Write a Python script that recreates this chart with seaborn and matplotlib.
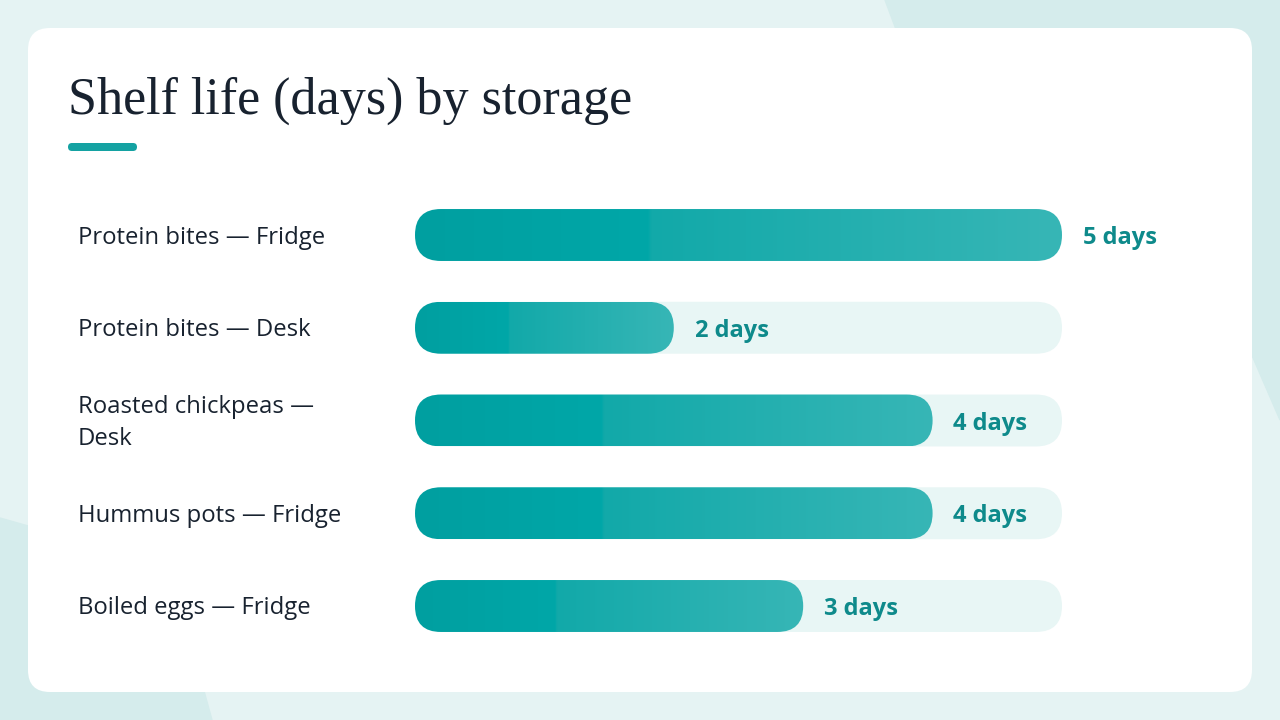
import numpy as np
import pandas as pd
import matplotlib.pyplot as plt
import seaborn as sns
from matplotlib.patches import FancyBboxPatch, Polygon, Rectangle
from matplotlib.colors import LinearSegmentedColormap
from matplotlib.transforms import blended_transform_factory, offset_copy

# ==== data ====
items = ["Protein bites — Fridge", "Protein bites — Desk", "Roasted chickpeas — Desk",
         "Hummus pots — Fridge", "Boiled eggs — Fridge"]
item_labels = ["Protein bites — Fridge", "Protein bites — Desk", "Roasted chickpeas —\nDesk",
               "Hummus pots — Fridge", "Boiled eggs — Fridge"]
days = [5, 2, 4, 4, 3]
max_days = 5
title = "Shelf life (days) by storage"

# ==== colours ====
BG_LIGHT = "#e5f3f3"
BG_DARK = "#d5ecec"
TRACK = "#e8f6f5"
LABEL_TEAL = "#0e8a8b"
INK = "#18222f"

sns.set_theme(style="white")
plt.rcParams['font.family'] = ['Open Sans', 'DejaVu Sans']

W, H = 1280, 720
fig = plt.figure(figsize=(12.8, 7.2), dpi=100)

# background + card (pixel coords)
bg = fig.add_axes([0, 0, 1, 1])
bg.set_xlim(0, W)
bg.set_ylim(H, 0)
bg.axis('off')
bg.add_patch(Rectangle((0, 0), W, H, color=BG_LIGHT, zorder=0))
bg.add_patch(Polygon([(885, 0), (W, 0), (W, 420), (1150, 120), (900, 40)],
                     closed=True, color=BG_DARK, zorder=0))
bg.add_patch(Polygon([(0, 518), (60, 535), (140, 580), (190, 640), (212, 720), (0, 720)],
                     closed=True, color=BG_DARK, zorder=0))
bg.add_patch(FancyBboxPatch((28, 28), 1224, 664, boxstyle="round,pad=0,rounding_size=22",
                            fc="white", ec="none", zorder=1))
bg.text(68, 114, title, fontsize=37.5, family=['Liberation Serif', 'DejaVu Serif'],
        color=INK, va='baseline', ha='left', zorder=2)
bg.add_patch(FancyBboxPatch((68, 143), 69, 8, boxstyle="round,pad=0,rounding_size=4",
                            fc="#14a2a2", ec="none", zorder=2))

# ==== bar chart ====
ax_left, ax_right = 415, 1062
row_top, row_bottom = 235, 606
step = (row_bottom - row_top) / (len(items) - 1)
ax_h = step * len(items)
ax = fig.add_axes([ax_left / W, (H - (row_bottom + step / 2)) / H,
                   (ax_right - ax_left) / W, ax_h / H])
ax.patch.set_alpha(0)

df = pd.DataFrame({"item": items, "days": days, "track": [max_days] * len(items)})
bar_w = 0.56
sns.barplot(data=df, x="track", y="item", orient="h", color=TRACK, width=bar_w,
            saturation=1, ax=ax)
n_track = len(ax.patches)
sns.barplot(data=df, x="days", y="item", orient="h", color="#00a1a2", width=bar_w,
            saturation=1, ax=ax)
ax.set_xlim(0, max_days)
ax.set_ylim(len(items) - 0.5, -0.5)

# pixel scale to make pill shapes round
sx = (ax_right - ax_left) / max_days
sy = ax_h / len(items)
r_px = bar_w * sy / 2
cmap = LinearSegmentedColormap.from_list(
    "teal", [(0, "#009fa0"), (0.36, "#00a7a8"), (0.365, "#12a9a9"), (1, "#37b6b6")], N=512)
grad = np.linspace(0, 1, 512).reshape(1, -1)

rects = list(ax.patches)
for i, rect in enumerate(rects):
    x0, y0 = rect.get_x(), rect.get_y()
    w, h = rect.get_width(), rect.get_height()
    rect.set_visible(False)
    pill = FancyBboxPatch((x0, y0), w, h,
                          boxstyle=f"round,pad=0,rounding_size={r_px / sx}",
                          mutation_aspect=sx / sy, ec="none", zorder=2)
    if i < n_track:
        pill.set_facecolor(TRACK)
        ax.add_patch(pill)
    else:
        pill.set_facecolor("none")
        ax.add_patch(pill)
        im = ax.imshow(grad, cmap=cmap, extent=(x0, x0 + w, y0 + h, y0),
                       aspect='auto', zorder=3, interpolation='bilinear')
        im.set_clip_path(pill)

ax.set_xlim(0, max_days)
ax.set_ylim(len(items) - 0.5, -0.5)
ax.axis('off')

# value labels
for i, d in enumerate(days):
    ax.annotate(f"{d} days", xy=(d, i), xytext=(15, -2.2), textcoords='offset points',
                va='center', ha='left', fontsize=17, fontweight='bold',
                color=LABEL_TEAL, zorder=4)

# category labels
trans = offset_copy(blended_transform_factory(fig.transFigure, ax.transData),
                    fig=fig, x=0, y=-2.5, units='dots')
for i, lab in enumerate(item_labels):
    ax.text(78 / W, i, lab, transform=trans, va='center', ha='left', fontsize=17.2,
            color=INK, linespacing=1.4, clip_on=False)

fig.savefig("out.png", dpi=100)
